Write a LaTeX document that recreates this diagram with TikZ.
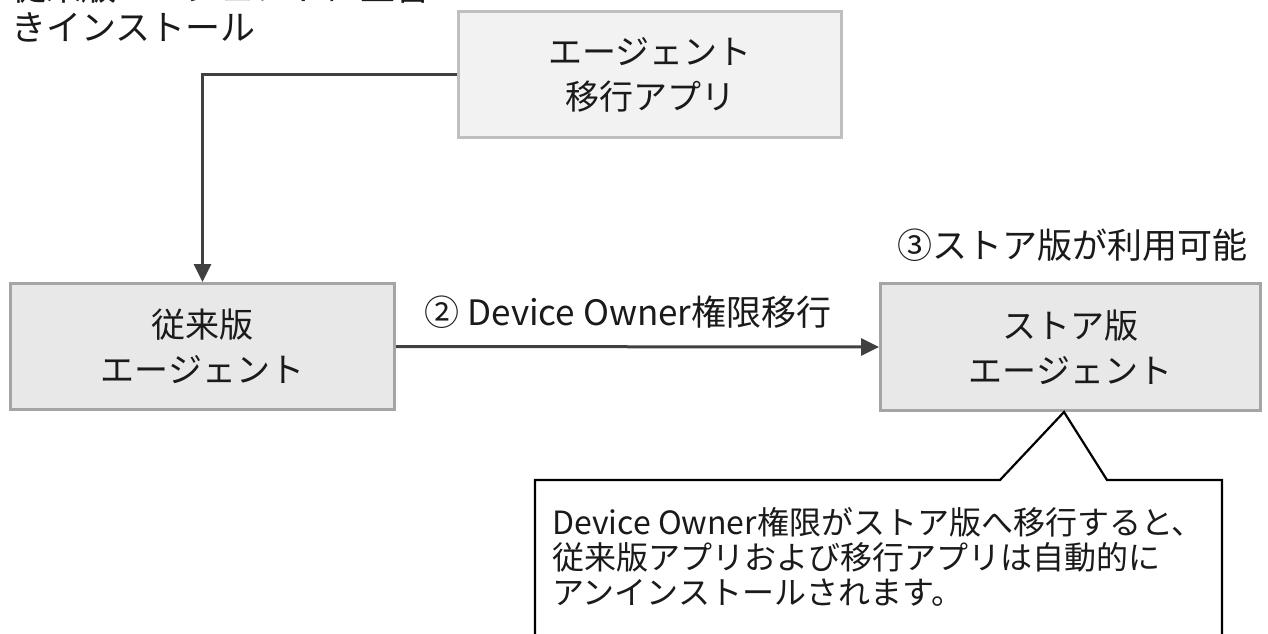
\documentclass[tikz,border=0pt]{standalone}
\usepackage{fontspec}
\setmainfont{Noto Sans CJK JP}
\usetikzlibrary{arrows.meta}
\definecolor{boxfillA}{HTML}{F2F2F2}
\definecolor{boxdrawA}{HTML}{BFBFBF}
\definecolor{boxfillB}{HTML}{E8E8E8}
\definecolor{boxdrawB}{HTML}{A5A5A5}
\definecolor{arrowcol}{HTML}{404040}
\definecolor{txt}{HTML}{1A1A1A}
\begin{document}
\begin{tikzpicture}[x=1pt,y=-1pt,
  agentbox/.style={rectangle, line width=3pt, minimum width=383pt, minimum height=126pt, inner sep=0pt, align=center, text=txt, font={\fontsize{34}{45}\selectfont}},
  lightbox/.style={agentbox, fill=boxfillA, draw=boxdrawA},
  darkbox/.style={agentbox, fill=boxfillB, draw=boxdrawB},
  flow/.style={draw=arrowcol, line width=3pt, -{Triangle[length=18pt,width=17pt]}},
  lbl/.style={text=txt, inner sep=0pt, font={\fontsize{35}{40}\selectfont}},
  calltext/.style={text=txt, inner sep=0pt, align=left, font={\fontsize{32}{35}\selectfont}}
]
\useasboundingbox (0,0) rectangle (1268,633);
\clip (0,0) rectangle (1268,633);

\node[lightbox] (app) at (650,74.5) {エージェント\\移行アプリ};
\node[darkbox, minimum width=384pt] (old) at (202.5,346.5) {従来版\\エージェント};
\node[darkbox, minimum width=380pt, minimum height=127pt] (store) at (1070.5,347) {ストア版\\エージェント};

\node[lbl, align=left, anchor=west] (note1) at (11,7) {従来版エージェントに上書\\きインストール};

\draw[flow] (app.west) -| (old.north);
\draw[flow] (old.east) -- (store.west);

\node[lbl] (lab2) at (628,312) {② Device Owner権限移行};
\node[lbl] (lab3) at (1072,245) {③ストア版が利用可能};

\coordinate (tip) at ([xshift=-6.5pt]store.south);
\draw[black, line width=2.2pt, fill=white, line join=miter]
  (535,480) -- (1000,480) -- (tip) -- (1107,480) -- (1222,480) -- (1222,660) -- (535,660) -- cycle;
\node[calltext, anchor=north west] (call) at (552,507) {Device Owner権限がストア版へ移行すると、\\従来版アプリおよび移行アプリは自動的に\\アンインストールされます。};
\end{tikzpicture}
\end{document}
